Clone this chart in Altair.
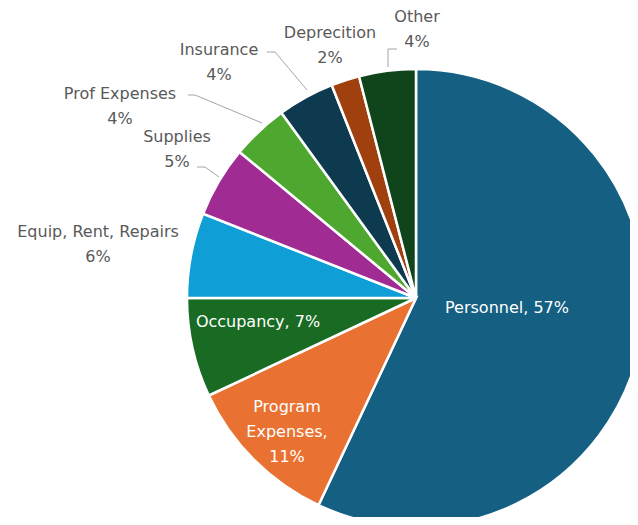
import altair as alt
import pandas as pd

# ---- data ----
categories = ["Personnel", "Program Expenses", "Occupancy", "Equip, Rent, Repairs",
              "Supplies", "Prof Expenses", "Insurance", "Deprecition", "Other"]
values = [57, 11, 7, 6, 5, 4, 4, 2, 4]
colors = ["#156082", "#E97132", "#196B24", "#0F9ED5", "#A02B93",
          "#4EA72E", "#0E3A50", "#A0400F", "#10441A"]

# ---- layout (chart pixels) ----
W, H = 622, 509
CX, CY = 408, 290
R = 229
FS = 16
LH = 25
FONT = "DejaVu Sans"

# offset of the FIRST text line from pie centre, whether inside
label_layout = {
    "Personnel": (91, 10, True),
    "Program Expenses": (-129, 109, True),
    "Occupancy": (-158, 24, True),
    "Equip, Rent, Repairs": (-318, -66, False),
    "Supplies": (-239, -161, False),
    "Prof Expenses": (-296, -204, False),
    "Insurance": (-197, -248, False),
    "Deprecition": (-86, -265, False),
    "Other": (1, -281, False),
}
# leader polylines, offsets from pie centre
leaders = {
    "Supplies": [(-219, -131), (-211, -131), (-197, -121)],
    "Prof Expenses": [(-228, -203), (-221, -203), (-154, -175)],
    "Insurance": [(-149, -246), (-141, -246), (-109, -208)],
    "Other": [(-19, -249), (-28, -249), (-28, -231)],
}

pie_df = pd.DataFrame({"category": categories, "value": values,
                       "idx": list(range(len(categories)))})

rows = []
for c, v in zip(categories, values):
    dx, dy, inside = label_layout[c]
    if c == "Program Expenses":
        txt = ["Program", "Expenses,", f"{v}%"]
    elif inside:
        txt = [f"{c}, {v}%"]
    else:
        txt = [c, f"{v}%"]
    rows.append({"category": c, "text": txt, "x": CX + dx, "y": CY + dy,
                 "inside": inside})
lab_df = pd.DataFrame(rows)
in_df = lab_df[lab_df["inside"]].drop(columns="inside")
out_df = lab_df[~lab_df["inside"]].drop(columns="inside")

lrows = []
for c, pts in leaders.items():
    for i, (dx, dy) in enumerate(pts):
        lrows.append({"category": c, "i": i, "x": CX + dx, "y": CY + dy})
lead_df = pd.DataFrame(lrows)

pie = alt.Chart(pie_df).mark_arc(radius=R, stroke="white", strokeWidth=2.5).encode(
    theta=alt.Theta("value:Q", stack=True),
    color=alt.Color("category:N", scale=alt.Scale(domain=categories, range=colors),
                    legend=None),
    order=alt.Order("idx:Q"),
    x=alt.value(CX),
    y=alt.value(CY),
)

inner = alt.Chart(in_df).mark_text(
    font=FONT, fontSize=FS, color="white", align="center",
    baseline="middle", lineHeight=LH,
).encode(
    x=alt.X("x:Q", scale=None), y=alt.Y("y:Q", scale=None), text="text",
)

outer = alt.Chart(out_df).mark_text(
    font=FONT, fontSize=FS, color="#595959", align="center",
    baseline="middle", lineHeight=LH,
).encode(
    x=alt.X("x:Q", scale=None), y=alt.Y("y:Q", scale=None), text="text",
)

lines = alt.Chart(lead_df).mark_line(color="#A6A6A6", strokeWidth=1).encode(
    x=alt.X("x:Q", scale=None), y=alt.Y("y:Q", scale=None),
    detail="category:N", order="i:Q",
)

chart = alt.layer(pie, lines, inner, outer).properties(
    width=W, height=H, padding=0, autosize=alt.AutoSizeParams(type="none"),
).configure_view(stroke=None)

chart.save("out.html", embed_options={"renderer": "svg", "actions": False})
